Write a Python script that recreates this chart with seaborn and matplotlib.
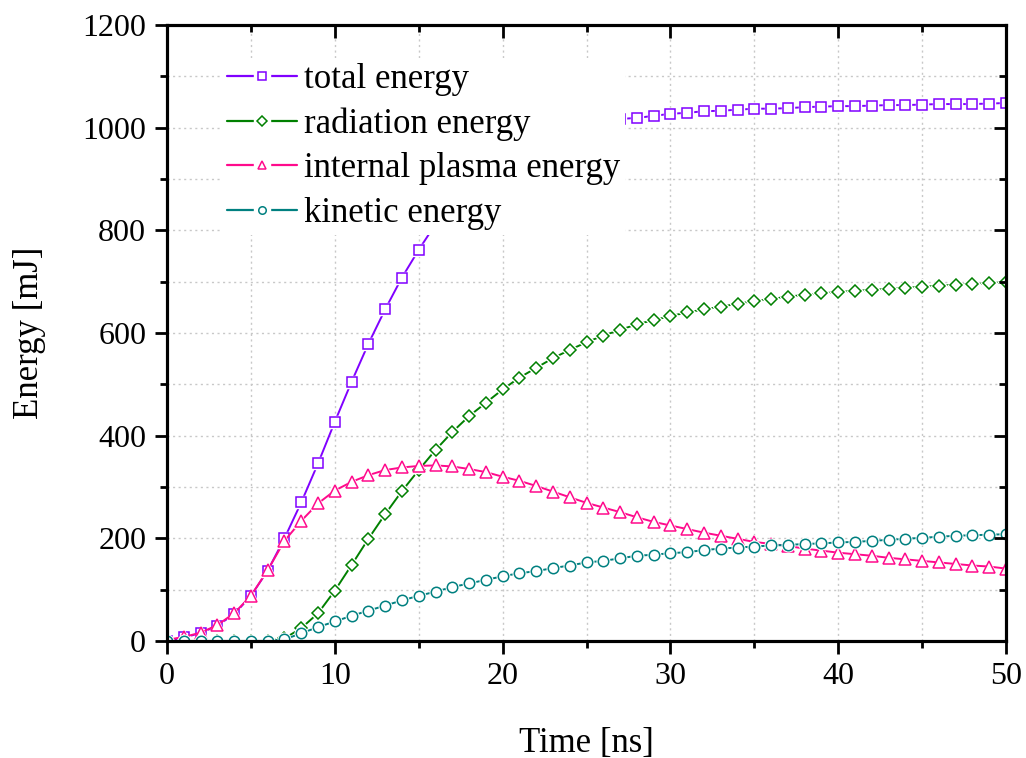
import numpy as np
import pandas as pd
import seaborn as sns
import matplotlib.pyplot as plt
from matplotlib.ticker import MultipleLocator
from matplotlib.lines import Line2D
from matplotlib.legend_handler import HandlerTuple

# time axis, one sample per ns
time_ns = list(range(0, 51))

total_energy = [0, 7, 15, 30, 52, 88, 137, 200, 270, 346,
                427, 505, 579, 646, 708, 762, 812, 855, 892, 925,
                952, 973, 988, 998, 1005, 1010, 1014, 1017, 1019, 1023,
                1027, 1029, 1032, 1033, 1035, 1037, 1037, 1038, 1040, 1041,
                1042, 1042, 1043, 1044, 1044, 1045, 1046, 1046, 1046, 1047,
                1048]
radiation_energy = [0, 0, 0, 0, 0, 0, 0, 5, 25, 54,
                    98, 148, 199, 247, 292, 333, 372, 407, 438, 464,
                    490, 513, 532, 551, 567, 582, 595, 606, 617, 625,
                    633, 640, 646, 651, 657, 662, 666, 671, 674, 677,
                    680, 682, 684, 686, 688, 690, 692, 694, 695, 697,
                    699]
internal_energy = [2, 8, 16, 31, 54, 88, 138, 195, 234, 268,
                   293, 310, 323, 333, 338, 341, 342, 340, 335, 329,
                   320, 312, 302, 291, 280, 269, 260, 251, 241, 232,
                   225, 218, 211, 205, 199, 193, 189, 185, 180, 176,
                   172, 169, 166, 162, 159, 156, 153, 150, 147, 145,
                   141]
kinetic_energy = [0, 0, 0, 0, 0, 0, 0, 3, 15, 27,
                  38, 49, 59, 69, 79, 88, 96, 105, 112, 119,
                  126, 132, 136, 142, 147, 153, 156, 161, 166, 168,
                  171, 173, 177, 180, 182, 184, 186, 187, 189, 190,
                  192, 193, 195, 197, 199, 201, 203, 205, 206, 207,
                  208]

series_names = ['total energy', 'radiation energy', 'internal plasma energy', 'kinetic energy']
series_values = [total_energy, radiation_energy, internal_energy, kinetic_energy]
series_colors = ['#8000FF', '#008000', '#FF0A8C', '#008080']
series_markers = ['s', 'D', '^', 'o']
marker_sizes = [7.5, 6.5, 8, 7.5]

sns.set_style('ticks')
plt.rcParams['font.family'] = ['Liberation Serif', 'DejaVu Serif']
plt.rcParams['xtick.color'] = 'black'
plt.rcParams['ytick.color'] = 'black'
plt.rcParams['text.color'] = 'black'
plt.rcParams['axes.labelcolor'] = 'black'

fig, ax = plt.subplots(figsize=(10.26, 7.58), dpi=100)
fig.subplots_adjust(left=0.1628, right=0.9805, top=0.967, bottom=0.1544)

handles = []
for name, vals, col, mk, ms in zip(series_names, series_values, series_colors,
                                   series_markers, marker_sizes):
    df = pd.DataFrame({'time': time_ns, 'energy': vals})
    sns.lineplot(x='time', y='energy', data=df, ax=ax, color=col,
                 linewidth=1.4, zorder=3)
    # white halo so the line stops short of each symbol
    ax.plot(time_ns, vals, linestyle='none', marker=mk, markersize=ms + 1.6,
            markerfacecolor='white', markeredgecolor='white', zorder=3)
    ax.plot(time_ns, vals, linestyle='none', marker=mk, markersize=ms,
            markerfacecolor='white', markeredgecolor=col,
            markeredgewidth=1.1, zorder=3)
    h_line = Line2D([], [], color=col, linewidth=1.6)
    h_gap = Line2D([], [], linestyle='none', marker='s', markersize=12,
                   markerfacecolor='white', markeredgecolor='white')
    h_mark = Line2D([], [], linestyle='none', marker=mk, markersize=ms * 0.72,
                    markerfacecolor='white', markeredgecolor=col,
                    markeredgewidth=1.1)
    handles.append((h_line, h_gap, h_mark))

ax.set_xlim(0, 50)
ax.set_ylim(0, 1200)
ax.xaxis.set_major_locator(MultipleLocator(10))
ax.xaxis.set_minor_locator(MultipleLocator(5))
ax.yaxis.set_major_locator(MultipleLocator(200))
ax.yaxis.set_minor_locator(MultipleLocator(100))

# dotted grid at major and minor steps
ax.grid(which='both', linestyle=(0, (1.5, 2.5)), color='#c8c8c8', linewidth=1.0)
ax.set_axisbelow(True)

for sp in ax.spines.values():
    sp.set_linewidth(2.2)
    sp.set_color('black')
    sp.set_zorder(5)

ax.tick_params(which='major', direction='out', length=9, width=2, labelsize=23,
               pad=6, bottom=True, left=True, top=False, right=False)
ax.tick_params(which='minor', direction='out', length=5, width=2,
               bottom=True, left=True, top=False, right=False)

# inward ticks on the top and right side
axt = ax.twiny()
axt.set_xlim(ax.get_xlim())
axt.xaxis.set_major_locator(MultipleLocator(10))
axt.xaxis.set_minor_locator(MultipleLocator(5))
axt.tick_params(which='major', direction='in', length=9, width=2, labeltop=False)
axt.tick_params(which='minor', direction='in', length=5, width=2)
axt.grid(False)
axr = ax.twinx()
axr.set_ylim(ax.get_ylim())
axr.yaxis.set_major_locator(MultipleLocator(200))
axr.yaxis.set_minor_locator(MultipleLocator(100))
axr.tick_params(which='major', direction='in', length=9, width=2, labelright=False)
axr.tick_params(which='minor', direction='in', length=5, width=2)
axr.grid(False)
for a in (axt, axr):
    for sp in a.spines.values():
        sp.set_linewidth(2.2)
        sp.set_color('black')

ax.set_xlabel('Time [ns]', fontsize=25, labelpad=26)
ax.set_ylabel('Energy [mJ]', fontsize=25, labelpad=26)

leg = axr.legend(handles, series_names, handler_map={tuple: HandlerTuple(ndivide=1)},
                 loc='upper left', bbox_to_anchor=(0.045, 0.975), fontsize=25,
                 frameon=True, facecolor='white', edgecolor='none', framealpha=1,
                 handlelength=2.0, handletextpad=0.2, labelspacing=0.33,
                 borderpad=0.15, fancybox=False)

plt.savefig('out.png', dpi=100)
